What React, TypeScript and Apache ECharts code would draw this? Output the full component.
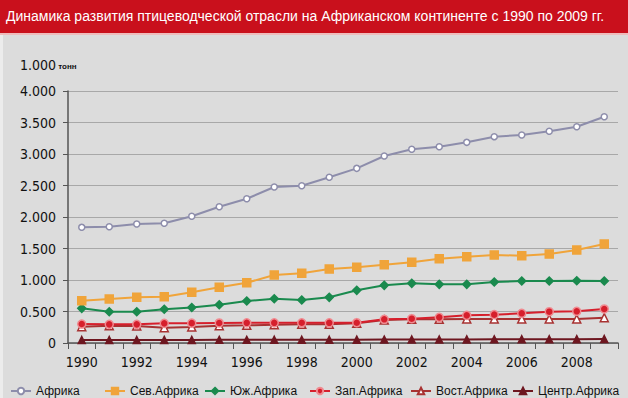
import React, { useEffect, useRef } from "react";
import * as echarts from "echarts";

const years = ["1990","1991","1992","1993","1994","1995","1996","1997","1998","1999","2000","2001","2002","2003","2004","2005","2006","2007","2008","2009"];
const africa = [1836,1846,1888,1900,2013,2163,2290,2476,2497,2630,2772,2968,3075,3116,3185,3275,3301,3360,3433,3592];
const north = [672,698,725,735,805,884,957,1079,1106,1174,1201,1243,1283,1338,1370,1397,1386,1412,1476,1571];
const south = [550,497,497,535,563,608,666,703,682,725,836,915,947,931,931,968,984,984,989,984];
const west = [301,296,296,312,315,318,320,320,321,320,322,376,386,407,439,450,471,497,503,540];
const east = [259,275,270,243,255,275,280,291,296,296,312,365,376,376,381,381,381,381,381,402];
const central = [48,48,48,49,49,50,50,51,51,52,53,54,55,56,57,58,59,60,61,63];
const yTicks = [0, 500, 1000, 1500, 2000, 2500, 3000, 3500, 4000];

const seriesNames = ["Африка","Сев.Африка","Юж.Африка","Зап.Африка","Вост.Африка","Центр.Африка"];
const legendLeft = [5, 99, 199, 304, 405, 507];

const NARROW = "'Liberation Sans Narrow', 'DejaVu Sans Condensed', Arial, sans-serif";

export default function App() {
  const ref = useRef<HTMLDivElement>(null);
  useEffect(() => {
    const chart = echarts.init(ref.current!, null, { renderer: "svg" });
    const fmt = (v: number) => (v === 0 ? "0" : (v / 1000).toFixed(3));
    const styles = [
      { color: "#8d8dab", symbol: "circle", size: 6, fill: "#ffffff", border: "#8d8dab" },
      { color: "#f0a43a", symbol: "rect", size: 8, fill: "#f0a43a", border: "#f0a43a" },
      { color: "#1a8a4e", symbol: "diamond", size: 8, fill: "#1a8a4e", border: "#1a8a4e" },
      { color: "#d61f2c", symbol: "circle", size: 8, fill: "#d61f2c", border: "#f08a90" },
      { color: "#a83232", symbol: "triangle", size: 8, fill: "#ffffff", border: "#a83232" },
      { color: "#6e1720", symbol: "triangle", size: 7, fill: "#6e1720", border: "#6e1720" },
    ];
    const datas = [africa, north, south, west, east, central];
    const series = seriesNames.map((name, i) => ({
      name,
      type: "line",
      data: datas[i],
      symbol: styles[i].symbol,
      symbolSize: styles[i].size,
      showAllSymbol: true,
      lineStyle: { color: styles[i].color, width: 2 },
      itemStyle: { color: styles[i].fill, borderColor: styles[i].border, borderWidth: 1.5 },
      z: 10 - i,
    }));
    chart.setOption({
      animation: false,
      backgroundColor: "#dcdcdc",
      graphic: [
        { type: "rect", left: 0, top: 0, shape: { width: 628, height: 33 }, style: { fill: "#c9101c" } },
        { type: "rect", left: 0, top: 33, shape: { width: 628, height: 2 }, style: { fill: "#eebcbc" } },
        { type: "rect", left: 0, top: 35, shape: { width: 3, height: 363 }, style: { fill: "#ececec" } },
        {
          type: "text", left: 6, top: 9,
          style: { text: "Динамика развития птицеводческой отрасли на Африканском континенте с 1990 по 2009 гг.", fill: "#ffffff", font: "14px Arial, 'Liberation Sans', sans-serif" },
        },
        {
          type: "text", left: 20, top: 58,
          style: {
            text: "{a|1.000}{b| тонн}",
            rich: {
              a: { fontFamily: NARROW, fontSize: 14, fill: "#111" },
              b: { fontFamily: "Arial, sans-serif", fontSize: 8, fontWeight: "bold", fill: "#111", padding: [3, 0, 0, 0] },
            },
          },
        },
      ],
      legend: seriesNames.map((n, i) => ({
        show: true,
        data: [n],
        left: legendLeft[i],
        top: 380,
        itemWidth: 20,
        itemHeight: 8,
        itemGap: 4,
        textStyle: { fontSize: 12, color: "#111", fontFamily: "Arial, 'Liberation Sans', sans-serif" },
      })),
      grid: { left: 68, right: 10, top: 91, bottom: 55, containLabel: false },
      xAxis: {
        type: "category",
        data: years,
        boundaryGap: true,
        axisLine: { lineStyle: { color: "#555", width: 1.5 } },
        axisTick: { show: true, alignWithLabel: false, interval: 0, length: 6, lineStyle: { color: "#555" } },
        axisLabel: { interval: 1, fontFamily: NARROW, fontSize: 14, color: "#111", margin: 12 },
      },
      yAxis: {
        type: "value",
        min: 0,
        max: 4000,
        interval: 500,
        axisLine: { show: true, lineStyle: { color: "#555", width: 1.5 } },
        axisTick: { show: true, length: 5, lineStyle: { color: "#555" } },
        axisLabel: { formatter: (v: number) => (yTicks.includes(v) ? fmt(v) : ""), fontFamily: NARROW, fontSize: 14, color: "#111", margin: 12 },
        splitLine: { lineStyle: { color: "#a8a8a8", width: 1 } },
      },
      series,
    });
    return () => chart.dispose();
  }, []);
  return <div ref={ref} style={{ position: "absolute", left: 0, top: 0, width: 628, height: 398 }} />;
}
